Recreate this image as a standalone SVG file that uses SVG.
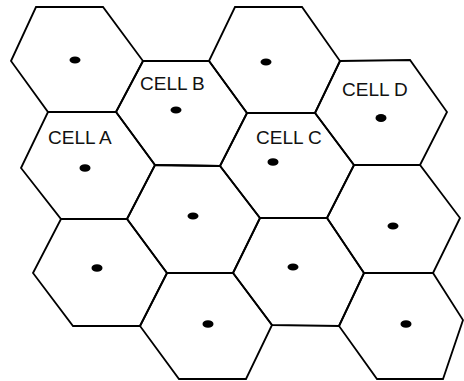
<svg xmlns="http://www.w3.org/2000/svg" width="464" height="381" viewBox="0 0 464 381">
<style>
.hex{fill:none;stroke:#000;stroke-width:1.8;stroke-linejoin:miter}
.dot{fill:#000}
.lbl{font-family:"Liberation Sans",Arial,sans-serif;font-size:19px;fill:#111}
</style>
<rect width="464" height="381" fill="#fff"/>
<g id="cell-1-1"><polygon class="hex" points="11,61 36,7 103,7 143,61 116,112 48,112"/><ellipse class="dot" cx="75" cy="60" rx="5.5" ry="3.5"/></g>
<g id="cell-a"><polygon class="hex" points="21,168 48,112 116,112 155,165 127,219 61,219"/><ellipse class="dot" cx="85" cy="168" rx="5.5" ry="3.8"/><text class="lbl" x="48" y="144">CELL A</text></g>
<g id="cell-1-3"><polygon class="hex" points="33,273 61,219 127,219 167,273 140,326 73,326"/><ellipse class="dot" cx="97" cy="268" rx="5.5" ry="3.8"/></g>
<g id="cell-b"><polygon class="hex" points="116,112 143,61 209,61 247,113 220,166 155,165"/><ellipse class="dot" cx="176" cy="110" rx="5.5" ry="3.5"/><text class="lbl" x="140" y="90">CELL B</text></g>
<g id="cell-2-2"><polygon class="hex" points="127,219 155,165 220,166 260,218 233,273 167,273"/><ellipse class="dot" cx="193" cy="216" rx="5.5" ry="3.5"/></g>
<g id="cell-2-3"><polygon class="hex" points="140,326 167,273 233,273 272,325 246,379 179,379"/><ellipse class="dot" cx="208" cy="324" rx="5.5" ry="3.8"/></g>
<g id="cell-3-1"><polygon class="hex" points="209,61 235,7 302,7 340,61 315,113 247,113"/><ellipse class="dot" cx="266" cy="62" rx="5.5" ry="3.5"/></g>
<g id="cell-c"><polygon class="hex" points="220,166 247,113 315,113 354,165 327,218 260,218"/><ellipse class="dot" cx="273" cy="162" rx="5.5" ry="3.8"/><text class="lbl" x="256" y="144">CELL C</text></g>
<g id="cell-3-3"><polygon class="hex" points="233,273 260,218 327,218 364,273 339,326 272,325"/><ellipse class="dot" cx="293" cy="267" rx="5.5" ry="3.5"/></g>
<g id="cell-d"><polygon class="hex" points="315,113 340,61 410,60 447,112 420,165 354,165"/><ellipse class="dot" cx="381" cy="118" rx="5.5" ry="4"/><text class="lbl" x="342" y="96">CELL D</text></g>
<g id="cell-4-2"><polygon class="hex" points="327,218 354,165 420,165 460,218 433,273 364,273"/><ellipse class="dot" cx="393" cy="226" rx="5.5" ry="3.5"/></g>
<g id="cell-4-3"><polygon class="hex" points="339,326 364,273 433,273 463,320 443,379 377,379"/><ellipse class="dot" cx="406" cy="324" rx="5.5" ry="3.8"/></g>
<g id="connectors"/>
</svg>
